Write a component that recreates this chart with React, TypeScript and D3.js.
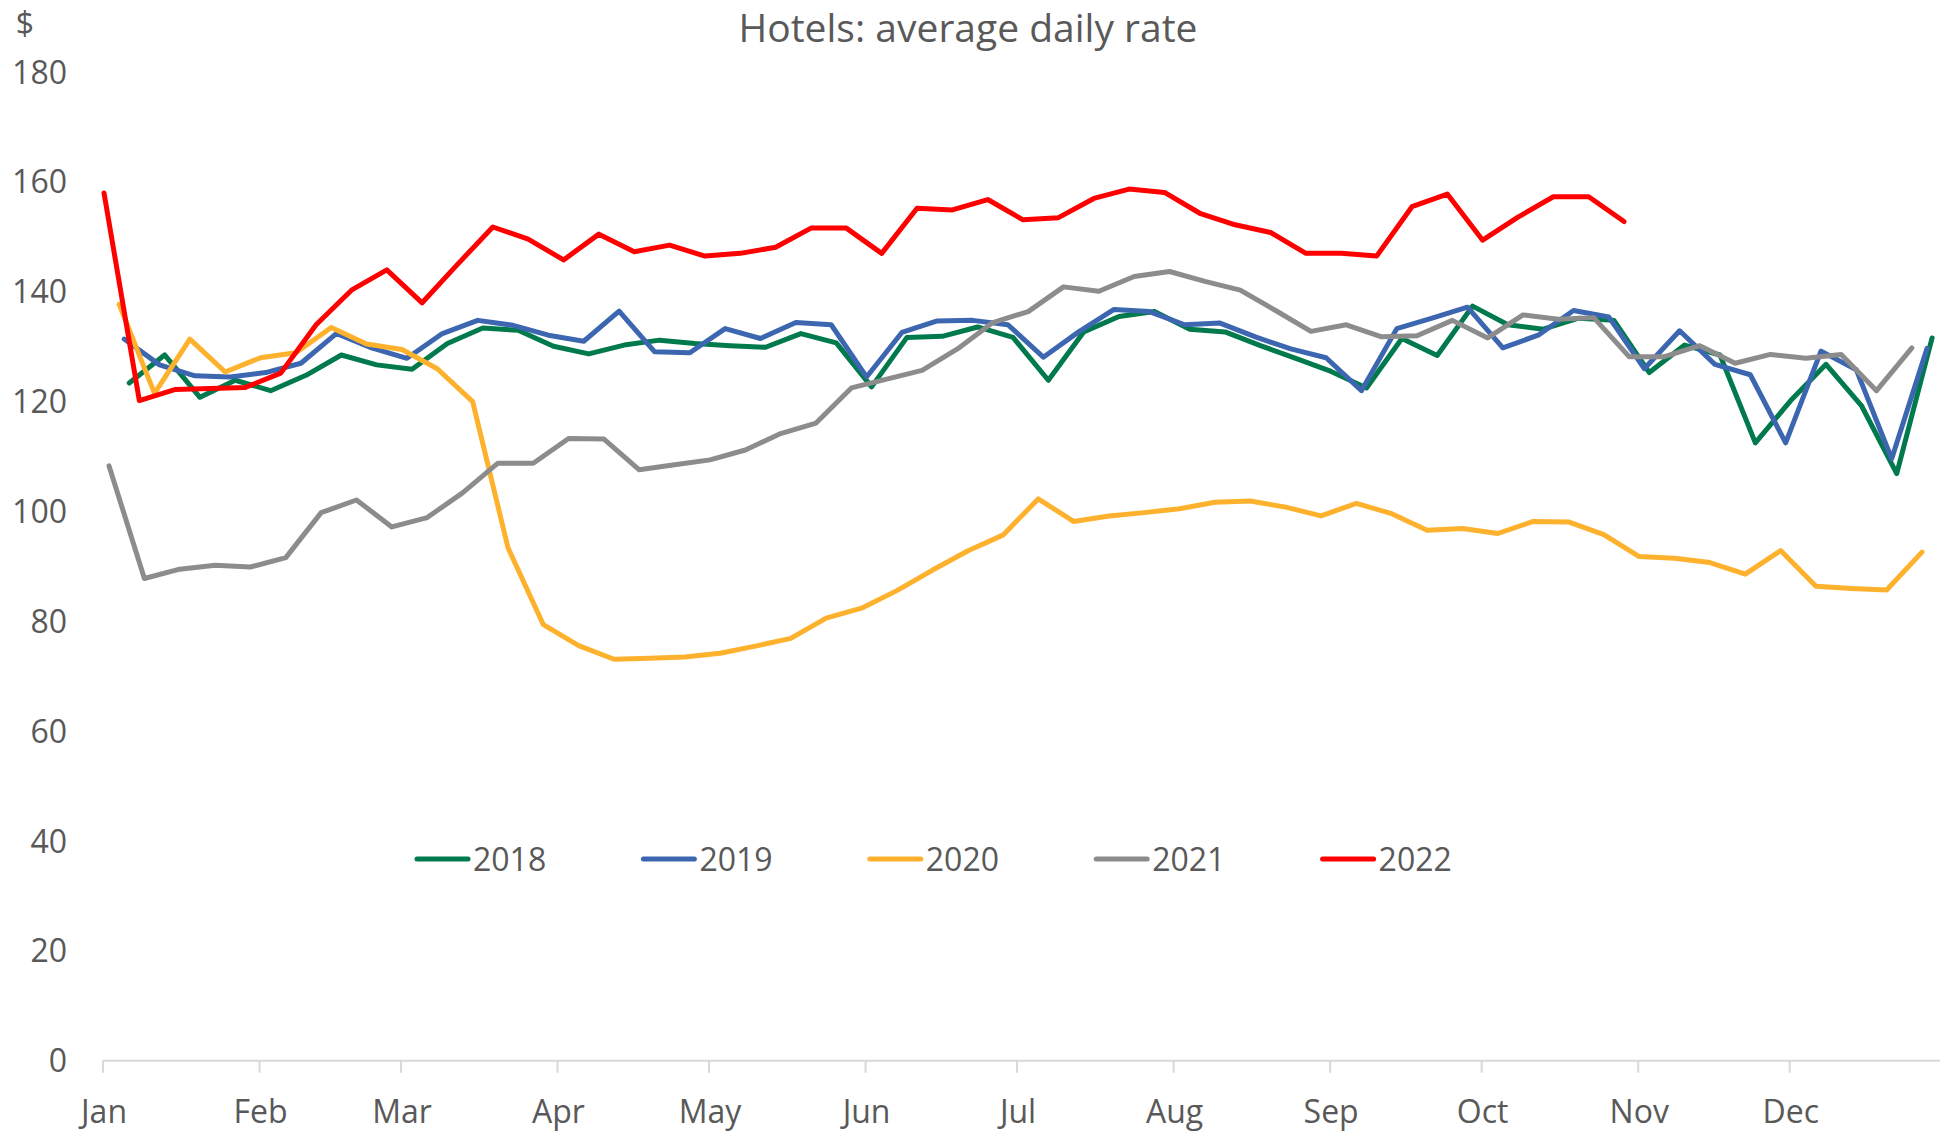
import React from 'react';
import * as d3 from 'd3';

// ---- data (weekly average daily rate, $) ----
const years = ['2018', '2019', '2020', '2021', '2022'];
// day-of-year of the first weekly observation for each year
const firstDay = [5, 4, 3, 1, 0];

const v2018 = [123.4, 128.5, 120.8, 123.9, 122, 124.8, 128.5, 126.7, 125.9, 130.6, 133.4, 133, 130.1, 128.7, 130.3, 131.2, 130.6, 130.2, 129.9, 132.4, 130.7, 122.7, 131.7, 131.9, 133.6, 131.7, 123.9, 132.7, 135.5, 136.4, 133.2, 132.7, 130.2, 127.9, 125.5, 122.5, 131.5, 128.4, 137.4, 134, 133.2, 135.2, 134.8, 125.3, 130.3, 128.5, 112.5, 120.2, 126.8, 119.3, 106.9, 131.6];
const v2019 = [131.4, 126.7, 124.7, 124.5, 125.3, 127, 132.4, 129.8, 127.9, 132.4, 134.8, 133.9, 132.1, 131, 136.5, 129.1, 128.9, 133.3, 131.5, 134.4, 134, 124.5, 132.6, 134.7, 134.8, 134, 128.1, 132.7, 136.8, 136.4, 134, 134.3, 131.8, 129.6, 128, 122, 133.3, 135.2, 137.2, 129.8, 132.1, 136.6, 135.4, 126, 132.9, 126.8, 124.9, 112.5, 129.2, 125.8, 109.6, 129.7];
const v2020 = [137.7, 121.5, 131.4, 125.4, 128, 128.9, 133.5, 130.5, 129.5, 126, 120, 93.4, 79.4, 75.6, 73.1, 73.3, 73.5, 74.2, 75.5, 76.9, 80.6, 82.4, 85.6, 89.3, 92.8, 95.7, 102.3, 98.2, 99.2, 99.8, 100.5, 101.7, 101.9, 100.8, 99.2, 101.5, 99.6, 96.6, 96.9, 96, 98.2, 98.1, 95.8, 91.8, 91.5, 90.7, 88.6, 92.9, 86.4, 86, 85.7, 92.6];
const v2021 = [108.3, 87.8, 89.5, 90.2, 89.9, 91.6, 99.8, 102.1, 97.2, 98.9, 103.4, 108.8, 108.8, 113.3, 113.2, 107.6, 108.5, 109.4, 111.2, 114.2, 116.1, 122.5, 124.1, 125.7, 129.6, 134.4, 136.4, 140.9, 140.1, 142.8, 143.7, 141.9, 140.3, 136.6, 132.8, 134, 131.8, 132, 134.8, 131.6, 135.8, 135, 135.3, 128.2, 128.2, 130.2, 127, 128.6, 127.9, 128.6, 122, 129.8];
const v2022 = [158, 120.2, 122.2, 122.4, 122.6, 125.2, 134, 140.3, 144, 138, 145, 151.8, 149.6, 145.8, 150.5, 147.3, 148.5, 146.5, 147, 148.1, 151.6, 151.6, 147, 155.2, 154.9, 156.8, 153.1, 153.5, 157, 158.7, 158.1, 154.3, 152.2, 150.8, 147, 147, 146.5, 155.5, 157.8, 149.4, 153.6, 157.3, 157.3, 152.8];

const seriesValues = [v2018, v2019, v2020, v2021, v2022];
const colors = ['#007A4D', '#3C67B0', '#FDB12D', '#8C8C8C', '#FF0000'];

const months = ['Jan', 'Feb', 'Mar', 'Apr', 'May', 'Jun', 'Jul', 'Aug', 'Sep', 'Oct', 'Nov', 'Dec'];
const monthStart = [0, 31, 59, 90, 120, 151, 181, 212, 243, 273, 304, 334];
const yTicks = [0, 20, 40, 60, 80, 100, 120, 140, 160, 180];

const W = 1950;
const H = 1134;
const FONT = '"Segoe UI", "Open Sans", "Noto Sans", sans-serif';
const TEXT = '#595959';

export default function App() {
  const x = d3.scaleLinear().domain([0, 365]).range([104, 104 + 365 * 5.05]);
  const y = d3.scaleLinear().domain([0, 180]).range([1060.8, 72.1]);

  const line = d3
    .line<{ d: number; v: number }>()
    .x((p) => x(p.d))
    .y((p) => y(p.v));

  const series = years.map((yr, k) => ({
    yr,
    color: colors[k],
    pts: seriesValues[k].map((v, i) => ({ d: firstDay[k] + 7 * i, v })),
  }));

  const legendX0 = 415;
  const legendStep = 226.4;
  const legendY = 859;

  return (
    <svg
      width={W}
      height={H}
      style={{ position: 'absolute', left: 0, top: 0, background: '#fff' }}
      fontFamily={FONT}
    >
      <rect x={0} y={0} width={W} height={H} fill="#fff" />
      <text x={968} y={42} textAnchor="middle" fontSize={39} fill={TEXT}>
        Hotels: average daily rate
      </text>
      <text x={25} y={35} textAnchor="middle" fontSize={32} fill={TEXT}>
        $
      </text>

      {/* y axis labels */}
      {yTicks.map((t) => (
        <text key={t} x={67} y={y(t)} dy="0.36em" textAnchor="end" fontSize={32} fill={TEXT}>
          {t}
        </text>
      ))}

      {/* x axis */}
      <line x1={102} x2={1940} y1={y(0)} y2={y(0)} stroke="#D9D9D9" strokeWidth={2} />
      {monthStart.map((d, i) => (
        <g key={months[i]}>
          <line x1={x(d) - 1} x2={x(d) - 1} y1={y(0)} y2={y(0) + 12} stroke="#D9D9D9" strokeWidth={2} />
          <text x={x(d)} y={1123} textAnchor="middle" fontSize={32} fill={TEXT}>
            {months[i]}
          </text>
        </g>
      ))}

      {/* series */}
      {series.map((s) => (
        <path
          key={s.yr}
          d={line(s.pts) || ''}
          fill="none"
          stroke={s.color}
          strokeWidth={5}
          strokeLinejoin="round"
          strokeLinecap="round"
        />
      ))}

      {/* legend */}
      {series.map((s, k) => {
        const lx = legendX0 + k * legendStep;
        return (
          <g key={'lg' + s.yr}>
            <line x1={lx + 2} x2={lx + 53} y1={legendY} y2={legendY} stroke={s.color} strokeWidth={5} strokeLinecap="round" />
            <text x={lx + 58} y={legendY} dy="0.36em" fontSize={32} fill={TEXT}>
              {s.yr}
            </text>
          </g>
        );
      })}
    </svg>
  );
}
